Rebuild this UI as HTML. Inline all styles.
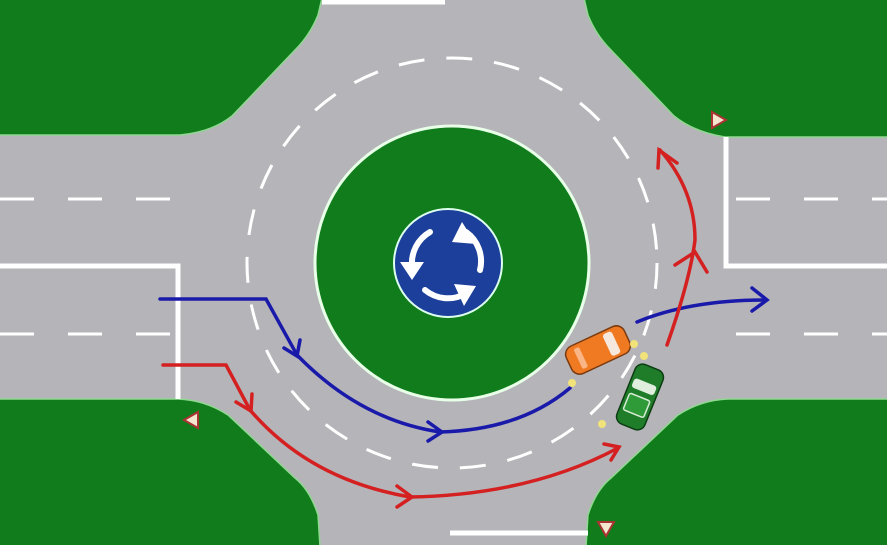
<!DOCTYPE html>
<html><head><style>html,body{margin:0;padding:0;background:#107c1c;}svg{display:block}</style></head>
<body>
<svg width="887" height="545" viewBox="0 0 887 545" xmlns="http://www.w3.org/2000/svg">
<rect width="887" height="545" fill="#b5b5b9"/>
<!-- green corners -->
<g fill="#107c1c" stroke="#8fd88f" stroke-width="1.5">
<path d="M-2,-2 H322 L318,15 Q310,35 295,50 L232,116 Q212,132 180,135 H-2Z"/>
<path d="M889,-2 H584 L588,15 Q596,35 611,50 L674,116 Q694,132 725,137 H889Z"/>
<path d="M-2,547 H320 L318,515 Q310,490 295,478 L228,415 Q205,400 178,399 H-2Z"/>
<path d="M889,547 H586 L588,515 Q596,490 611,478 L678,415 Q701,400 728,399 H889Z"/>
</g>
<!-- lane dashes -->
<g stroke="#fff" stroke-width="3" stroke-dasharray="34,34">
<line x1="0" y1="199" x2="170" y2="199"/>
<line x1="0" y1="334" x2="170" y2="334"/>
<line x1="736" y1="199" x2="887" y2="199"/>
<line x1="736" y1="334" x2="887" y2="334"/>
</g>
<g stroke="#fff" stroke-width="5" fill="none">
<path d="M0,266 H178 V399"/>
<path d="M726,137 V266 H887"/>
<line x1="450" y1="533" x2="588" y2="533"/>
<line x1="322" y1="2" x2="445" y2="2"/>
</g>
<circle cx="452" cy="263" r="205" fill="none" stroke="#fff" stroke-width="3" stroke-dasharray="26,22"/>
<circle cx="452" cy="263" r="137" fill="#107c1c" stroke="#e8ffe8" stroke-width="3"/>
<circle cx="448" cy="263" r="54" fill="#1b3f9a" stroke="#dfe" stroke-width="2"/>
<g stroke="#fff" stroke-width="6" fill="none" stroke-linecap="round">
<path d="M412,266 A36,36 0 0 1 430,232"/>
<path d="M466,232 A36,36 0 0 1 480,270"/>
<path d="M465,294 A36,36 0 0 1 425,290"/>
</g>
<g fill="#fff">
<polygon points="400,262 424,262 412,280"/>
<polygon points="462,222 476,244 452,242"/>
<polygon points="476,286 464,306 454,284"/>
</g>
<!-- yield signs -->
<g fill="#f3e7cf" stroke="#a33" stroke-width="2">
<polygon points="712,112 726,120 712,128"/>
<polygon points="198,412 184,420 198,428"/>
<polygon points="598,522 614,522 606,536"/>
</g>
<!-- blue path -->
<g stroke="#1a1aaa" stroke-width="3.5" fill="none" stroke-linecap="round">
<path d="M160,299 H266 L297,355 Q360,420 440,432 Q520,430 570,388"/>
<path d="M284,348 L297,356 L300,340"/>
<path d="M428,422 L442,432 L428,441"/>
<path d="M637,322 Q690,300 765,300"/>
<path d="M752,288 L767,300 L752,311"/>
</g>
<!-- red path -->
<g stroke="#d42020" stroke-width="3.5" fill="none" stroke-linecap="round">
<path d="M163,365 H226 L250,410 Q310,480 410,497 Q530,495 618,448"/>
<path d="M236,402 L251,411 L252,394"/>
<path d="M397,486 L412,497 L397,507"/>
<path d="M604,444 L619,447 L611,460"/>
<path d="M667,345 Q690,280 695,240 Q695,190 660,150"/>
<path d="M675,265 L695,252 L707,272"/>
<path d="M658,168 L659,150 L677,163"/>
</g>
<!-- cars -->
<g transform="translate(598,350) rotate(-25)">
<rect x="-32" y="-15" width="64" height="30" rx="9" fill="#f07a22" stroke="#7a3a10" stroke-width="1.5"/>
<rect x="10" y="-12" width="10" height="24" rx="3" fill="#f7e8dd"/>
<rect x="-22" y="-11" width="6" height="22" rx="2" fill="#f9b585"/>
</g>
<g transform="translate(640,397) rotate(-68)">
<rect x="-32" y="-15" width="64" height="30" rx="8" fill="#1f7d2a" stroke="#0c3d12" stroke-width="1.5"/>
<rect x="6" y="-12" width="10" height="24" rx="3" fill="#dfeedd"/>
<rect x="-18" y="-11" width="18" height="22" rx="2" fill="#2e9a38" stroke="#d8ecd6" stroke-width="1.5"/>
</g>
<g fill="#f2e27a">
<circle cx="572" cy="383" r="4"/><circle cx="634" cy="344" r="4"/><circle cx="644" cy="356" r="4"/><circle cx="602" cy="424" r="4"/>
</g>
</svg>
</body></html>
